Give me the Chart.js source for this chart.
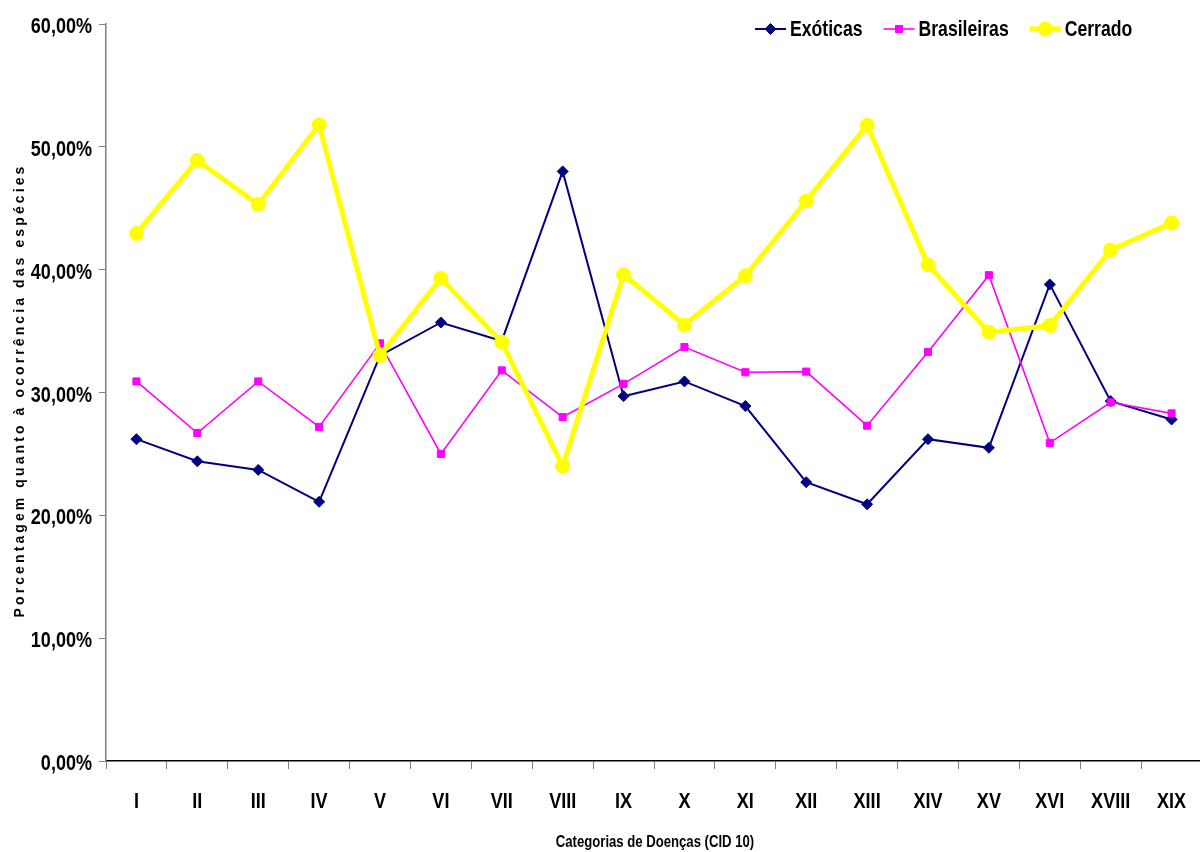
<!DOCTYPE html>
<html>
<head>
<meta charset="utf-8">
<script src="https://cdn.jsdelivr.net/npm/chart.js@4/dist/chart.umd.min.js"></script>
<style>
  html, body { margin: 0; padding: 0; background: #fff; overflow: hidden; }
  #wrap { width: 1210px; height: 852px; }
</style>
</head>
<body>
<div id="wrap"><canvas id="c" width="1210" height="852"></canvas></div>
<script>
const categories = ['I','II','III','IV','V','VI','VII','VIII','IX','X','XI','XII','XIII','XIV','XV','XVI','XVIII','XIX'];
const exoticas    = [26.2, 24.4, 23.7, 21.1, 33.0, 35.7, 34.2, 48.0, 29.7, 30.9, 28.9, 22.7, 20.9, 26.2, 25.5, 38.8, 29.3, 27.8];
const brasileiras = [30.9, 26.7, 30.9, 27.2, 34.0, 25.0, 31.8, 28.0, 30.7, 33.7, 31.65, 31.7, 27.3, 33.3, 39.55, 25.9, 29.2, 28.3];
const cerrado     = [42.95, 48.9, 45.3, 51.8, 33.0, 39.3, 34.1, 24.0, 39.6, 35.5, 39.5, 45.6, 51.75, 40.4, 34.9, 35.45, 41.6, 43.8];
const seriesNames = ['Exóticas', 'Brasileiras', 'Cerrado'];
const yTitle = 'Porcentagem quanto à ocorrência das espécies';
const xTitle = 'Categorias de Doenças (CID 10)';

const SANS = "'Liberation Sans', Arial, sans-serif";
const NARROW_SCALE = 0.82;

function narrowText(ctx, text, x, y, size, align) {
  ctx.save();
  ctx.font = 'bold ' + size + 'px ' + SANS;
  ctx.fillStyle = '#000';
  ctx.textAlign = align;
  ctx.textBaseline = 'middle';
  ctx.translate(x, y);
  ctx.scale(NARROW_SCALE, 1);
  ctx.fillText(text, 0, 0);
  const w = ctx.measureText(text).width * NARROW_SCALE;
  ctx.restore();
  return w;
}

const decor = {
  id: 'decor',
  afterDraw(chart) {
    const ctx = chart.ctx;
    const area = chart.chartArea;
    const xs = chart.scales.x, ys = chart.scales.y;

    xs.ticks.forEach((t, i) => {
      narrowText(ctx, categories[i], xs.getPixelForTick(i), 802, 22, 'center');
    });
    ys.ticks.forEach((t, i) => {
      const lbl = t.value.toFixed(2).replace('.', ',') + '%';
      narrowText(ctx, lbl, 92, ys.getPixelForTick(i) + 3, 22, 'right');
    });
    narrowText(ctx, xTitle, (area.left + area.right) / 2 + 1, 843, 16, 'center');

    ctx.save();
    ctx.translate(20, (area.top + area.bottom) / 2 - 2);
    ctx.rotate(-Math.PI / 2);
    ctx.font = 'bold 14px ' + SANS;
    try { ctx.letterSpacing = '3.1px'; } catch (e) {}
    ctx.fillStyle = '#000';
    ctx.textAlign = 'center';
    ctx.textBaseline = 'middle';
    ctx.fillText(yTitle, 0, 0);
    ctx.restore();

    let x = 755;
    const y = 29;
    chart.data.datasets.forEach((ds) => {
      ctx.save();
      ctx.strokeStyle = ds.borderColor;
      ctx.lineWidth = ds.borderWidth;
      ctx.beginPath();
      ctx.moveTo(x, y);
      ctx.lineTo(x + 31, y);
      ctx.stroke();
      ctx.fillStyle = ds.pointBackgroundColor;
      ctx.strokeStyle = ds.pointBorderColor;
      ctx.lineWidth = 1;
      Chart.helpers.drawPoint(ctx, { pointStyle: ds.pointStyle, radius: ds.pointRadius, borderWidth: 1, rotation: 0 }, x + 15.5, y);
      ctx.restore();
      const w = narrowText(ctx, ds.label, x + 35, y + 1, 21.5, 'left');
      x += 35 + w + 21;
    });
  }
};

const chart = new Chart(document.getElementById('c'), {
  type: 'line',
  data: {
    labels: categories,
    datasets: [
      {
        label: seriesNames[0], data: exoticas,
        borderColor: '#000080', backgroundColor: '#000080',
        borderWidth: 2, pointStyle: 'rectRot', pointRadius: 5.5, pointHoverRadius: 5.5,
        pointBorderWidth: 1, pointBorderColor: '#000080', pointBackgroundColor: '#000080',
        tension: 0, order: 3
      },
      {
        label: seriesNames[1], data: brasileiras,
        borderColor: '#FF00FF', backgroundColor: '#FF00FF',
        borderWidth: 1.6, pointStyle: 'rect', pointRadius: 5, pointHoverRadius: 5,
        pointBorderWidth: 1, pointBorderColor: '#FF00FF', pointBackgroundColor: '#FF00FF',
        tension: 0, order: 2
      },
      {
        label: seriesNames[2], data: cerrado,
        borderColor: '#FFFF00', backgroundColor: '#FFFF00',
        borderWidth: 5, pointStyle: 'circle', pointRadius: 7, pointHoverRadius: 7,
        pointBorderWidth: 1, pointBorderColor: '#FFFF00', pointBackgroundColor: '#FFFF00',
        tension: 0, order: 1
      }
    ]
  },
  options: {
    responsive: false,
    animation: false,
    events: [],
    layout: { padding: { top: 24, right: 2, left: 0, bottom: 0 } },
    plugins: { legend: { display: false }, tooltip: { enabled: false }, title: { display: false } },
    scales: {
      x: {
        type: 'category',
        offset: true,
        afterFit(s) { s.height = 91; },
        grid: { display: true, drawOnChartArea: false, drawTicks: true, tickLength: 8, color: '#808080', offset: true },
        border: { display: true, color: '#000', width: 1.5 },
        ticks: { display: false, autoSkip: false, maxRotation: 0 },
        title: { display: false }
      },
      y: {
        min: 0, max: 60,
        afterFit(s) { s.width = 106; },
        grid: { display: true, drawOnChartArea: false, drawTicks: true, tickLength: 7, color: '#808080' },
        border: { display: true, color: '#808080', width: 1.5 },
        ticks: { display: false, stepSize: 10 }
      }
    }
  },
  plugins: [decor]
});
</script>
</body>
</html>
